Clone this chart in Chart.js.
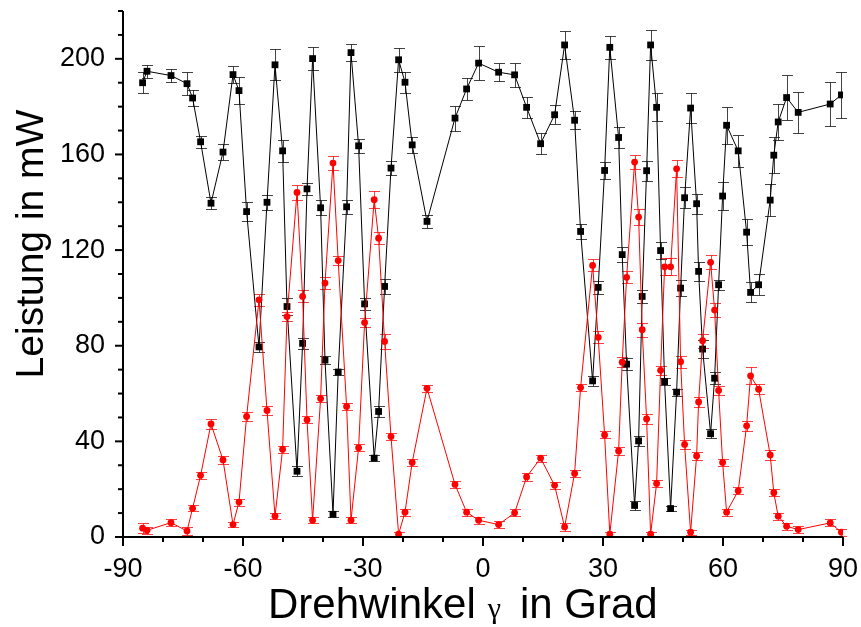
<!DOCTYPE html>
<html>
<head>
<meta charset="utf-8">
<script src="https://cdn.jsdelivr.net/npm/chart.js@4.4.1/dist/chart.umd.min.js"></script>
<style>
  html, body { margin: 0; padding: 0; background: #fff; }
</style>
</head>
<body>
<canvas id="chart" width="861" height="627"></canvas>
<script>
// Drehwinkel in Grad
const angles = [
  -85.1, -84.0, -78.0, -74.0, -72.6, -70.6, -68.0, -65.0, -62.5, -61.0,
  -59.1, -56.0, -54.0, -52.0, -50.1, -49.0, -46.5, -45.1, -44.0, -42.6,
  -40.6, -39.5, -37.5, -36.2, -34.1, -33.0, -31.1, -29.6, -27.2, -26.1,
  -24.6, -23.0, -21.1, -19.5, -17.7, -14.0, -7.0, -4.1, -1.1, 3.9,
  7.9, 10.9, 14.4, 17.9, 20.4, 22.9, 24.4, 27.4, 28.8, 30.4,
  31.7, 33.9, 34.8, 35.9, 37.9, 38.9, 39.8, 40.9, 41.9, 43.4,
  44.4, 45.4, 46.9, 48.4, 49.4, 50.4, 51.9, 53.4, 53.9, 54.9,
  56.9, 57.9, 58.9, 59.9, 60.9, 63.8, 65.9, 66.9, 68.9, 71.8,
  72.7, 73.8, 75.9, 78.8, 86.8, 89.6
];

// Leistung in mW, schwarze Kurve
const powerBlack = [
  190.0, 194.8, 193.0, 189.6, 183.6, 165.3, 139.6, 161.0, 193.4, 186.7,
  136.1, 79.5, 140.0, 197.5, 161.5, 96.4, 27.5, 81.0, 145.6, 200.1,
  137.7, 74.0, 9.5, 69.0, 138.1, 202.6, 163.6, 97.5, 33.0, 52.5,
  104.8, 154.3, 199.6, 190.2, 164.0, 132.0, 175.2, 187.4, 198.2, 194.4,
  193.3, 179.7, 164.5, 176.6, 205.8, 174.3, 127.8, 65.3, 104.4, 153.3,
  204.8, 167.1, 118.1, 72.3, 13.2, 40.2, 100.6, 153.2, 205.8, 179.7,
  119.8, 65.0, 11.9, 60.6, 104.1, 141.9, 179.4, 139.4, 111.1, 78.6,
  43.2, 66.4, 105.5, 142.6, 172.2, 161.5, 127.5, 102.3, 105.5, 140.9,
  159.7, 173.6, 183.8, 177.6, 181.1, 184.9
];
const errBlack = [
  4.5, 2.8, 2.8, 4.8, 3.5, 2.6, 2.4, 3.4, 3.5, 5.5,
  4.0, 2.1, 3.2, 6.5, 4.5, 3.5, 2.1, 2.3, 2.4, 4.9,
  3.2, 1.5, 1.2, 1.4, 3.0, 3.5, 2.9, 2.4, 1.4, 2.4,
  3.1, 2.8, 5.1, 4.4, 3.3, 2.8, 5.2, 4.5, 7.2, 3.8,
  4.9, 4.5, 4.5, 4.0, 6.0, 3.8, 3.2, 2.2, 2.8, 3.7,
  4.9, 4.2, 3.1, 2.4, 1.7, 2.2, 2.9, 4.2, 6.3, 5.8,
  3.7, 1.3, 1.2, 1.5, 3.3, 4.5, 6.4, 4.2, 4.0, 3.6,
  1.9, 2.6, 2.0, 6.0, 7.7, 6.6, 5.4, 4.2, 4.3, 6.6,
  7.5, 7.7, 9.4, 8.5, 9.1, 9.6
];

// Leistung in mW, rote Kurve
const powerRed = [
  3.7, 2.8, 6.0, 2.5, 12.0, 25.8, 47.3, 32.2, 5.2, 14.6,
  50.4, 99.2, 52.9, 8.7, 36.7, 92.2, 144.1, 100.6, 49.0, 7.0,
  57.9, 106.2, 156.4, 115.6, 54.6, 7.0, 37.3, 89.7, 141.1, 125.0,
  81.8, 42.0, 1.2, 10.4, 31.2, 62.2, 22.0, 10.4, 7.0, 5.2,
  10.1, 25.1, 33.0, 21.6, 4.2, 26.6, 62.5, 113.6, 83.5, 42.7,
  1.2, 36.0, 73.1, 108.6, 156.8, 133.8, 86.7, 49.4, 1.2, 22.4,
  69.7, 113.0, 113.0, 154.0, 73.3, 38.7, 2.0, 33.9, 56.5, 82.1,
  114.9, 94.9, 61.3, 31.2, 10.4, 19.3, 46.5, 67.4, 61.8, 34.3,
  18.5, 8.7, 4.5, 3.1, 5.9, 2.0
];
const errRed = [
  2.0, 1.5, 1.5, 1.5, 1.2, 1.5, 2.0, 1.5, 1.0, 1.5,
  2.0, 2.5, 2.0, 1.2, 1.5, 2.0, 3.0, 2.5, 1.5, 1.2,
  1.5, 2.5, 3.0, 2.0, 1.5, 1.2, 1.5, 2.0, 3.5, 2.5,
  3.0, 1.5, 1.0, 1.5, 1.5, 1.5, 1.5, 1.5, 1.5, 1.5,
  1.5, 1.5, 1.5, 1.5, 1.5, 1.5, 1.5, 2.5, 2.5, 1.5,
  1.0, 1.5, 2.0, 2.5, 3.0, 3.5, 3.0, 2.0, 1.0, 1.5,
  2.0, 3.5, 3.5, 3.5, 2.5, 2.0, 1.0, 1.5, 2.0, 3.0,
  3.0, 3.0, 2.0, 1.5, 1.5, 1.5, 2.0, 3.5, 2.0, 2.0,
  1.5, 1.5, 1.5, 1.5, 1.5, 1.5
];

const xLabels = [-90, -60, -30, 0, 30, 60, 90];
const yLabels = [0, 40, 80, 120, 160, 200];

const sansFont = '"Liberation Sans", Arial, sans-serif';

// Achsen, Fehlerbalken und Achsentitel von Hand zeichnen
const axesPlugin = {
  id: 'axesPlugin',
  beforeDatasetsDraw(chart) {
    const ctx = chart.ctx;
    const xs = chart.scales.x, ys = chart.scales.y;
    const sets = [
      [powerBlack, errBlack, 'rgba(20,20,20,0.8)'],
      [powerRed, errRed, 'rgba(255,0,0,0.75)']
    ];
    ctx.save();
    ctx.lineWidth = 1;
    sets.forEach(([vals, errs, color]) => {
      ctx.strokeStyle = color;
      angles.forEach((a, i) => {
        const px = Math.round(xs.getPixelForValue(a)) + 0.5;
        const top = Math.round(ys.getPixelForValue(vals[i] + errs[i])) + 0.5;
        const bot = Math.round(ys.getPixelForValue(vals[i] - errs[i])) + 0.5;
        ctx.beginPath();
        ctx.moveTo(px, top); ctx.lineTo(px, bot);
        ctx.moveTo(px - 5.5, top); ctx.lineTo(px + 5.5, top);
        ctx.moveTo(px - 5.5, bot); ctx.lineTo(px + 5.5, bot);
        ctx.stroke();
      });
    });
    ctx.restore();
  },
  afterDraw(chart) {
    const ctx = chart.ctx;
    const xs = chart.scales.x, ys = chart.scales.y;
    const area = chart.chartArea;
    ctx.save();
    ctx.strokeStyle = '#000';
    ctx.lineWidth = 2;
    ctx.beginPath();
    ctx.moveTo(area.left, area.top);
    ctx.lineTo(area.left, area.bottom);
    ctx.lineTo(area.right, area.bottom);
    ctx.stroke();

    ys.ticks.forEach(t => {
      const py = ys.getPixelForValue(t.value);
      const len = yLabels.includes(t.value) ? 8 : 5;
      ctx.beginPath();
      ctx.moveTo(area.left, py);
      ctx.lineTo(area.left - len, py);
      ctx.stroke();
    });
    xs.ticks.forEach(t => {
      const px = xs.getPixelForValue(t.value);
      const len = xLabels.includes(t.value) ? 9 : 5;
      ctx.beginPath();
      ctx.moveTo(px, area.bottom);
      ctx.lineTo(px, area.bottom + len);
      ctx.stroke();
    });

    // x-Titel: Drehwinkel γ in Grad
    ctx.fillStyle = '#000';
    ctx.textBaseline = 'alphabetic';
    ctx.textAlign = 'left';
    const base = 618;
    let x = 268;
    ctx.font = '42px ' + sansFont;
    ctx.fillText('Drehwinkel', x, base);
    x += ctx.measureText('Drehwinkel').width + 12;
    ctx.font = '30px "Liberation Serif", "Times New Roman", serif';
    ctx.fillText('γ', x, base);
    x += ctx.measureText('γ').width + 19;
    ctx.font = '42px ' + sansFont;
    ctx.fillText('in Grad', x, base);

    // y-Titel
    ctx.font = '39px ' + sansFont;
    ctx.translate(43, 244);
    ctx.rotate(-Math.PI / 2);
    ctx.textAlign = 'center';
    ctx.fillText('Leistung in mW', 0, 0);
    ctx.restore();
  }
};

const tickFont = { family: sansFont, size: 27 };

new Chart(document.getElementById('chart'), {
  type: 'scatter',
  data: {
    datasets: [
      {
        label: 'rot',
        order: 0,
        data: angles.map((a, i) => ({ x: a, y: powerRed[i] })),
        showLine: true,
        borderColor: '#ff0000',
        borderWidth: 1,
        pointStyle: 'circle',
        pointRadius: 3.4,
        pointBackgroundColor: '#ff0000',
        pointBorderWidth: 0
      },
      {
        label: 'schwarz',
        order: 1,
        data: angles.map((a, i) => ({ x: a, y: powerBlack[i] })),
        showLine: true,
        borderColor: '#000000',
        borderWidth: 1,
        pointStyle: 'rect',
        pointRadius: 4.8,
        pointBackgroundColor: '#000000',
        pointBorderWidth: 0
      }
    ]
  },
  options: {
    responsive: false,
    animation: false,
    layout: { padding: { top: 11, right: 18, left: 0, bottom: 0 } },
    plugins: { legend: { display: false }, tooltip: { enabled: false } },
    scales: {
      x: {
        type: 'linear',
        min: -90,
        max: 90,
        grid: { display: false, drawTicks: false },
        border: { display: false },
        ticks: {
          stepSize: 10,
          autoSkip: false,
          maxRotation: 0,
          padding: 16,
          color: '#000',
          font: tickFont,
          callback: v => xLabels.includes(v) ? String(v) : ''
        },
        afterFit: s => { s.height = 90; s.paddingLeft = 0; s.paddingRight = 0; }
      },
      y: {
        type: 'linear',
        min: 0,
        max: 220,
        grid: { display: false, drawTicks: false },
        border: { display: false },
        ticks: {
          stepSize: 10,
          autoSkip: false,
          padding: 18,
          color: '#000',
          font: tickFont,
          callback: v => yLabels.includes(v) ? String(v) : ''
        },
        afterFit: s => { s.width = 123; s.paddingTop = 0; s.paddingBottom = 0; }
      }
    }
  },
  plugins: [axesPlugin]
});
</script>
</body>
</html>
